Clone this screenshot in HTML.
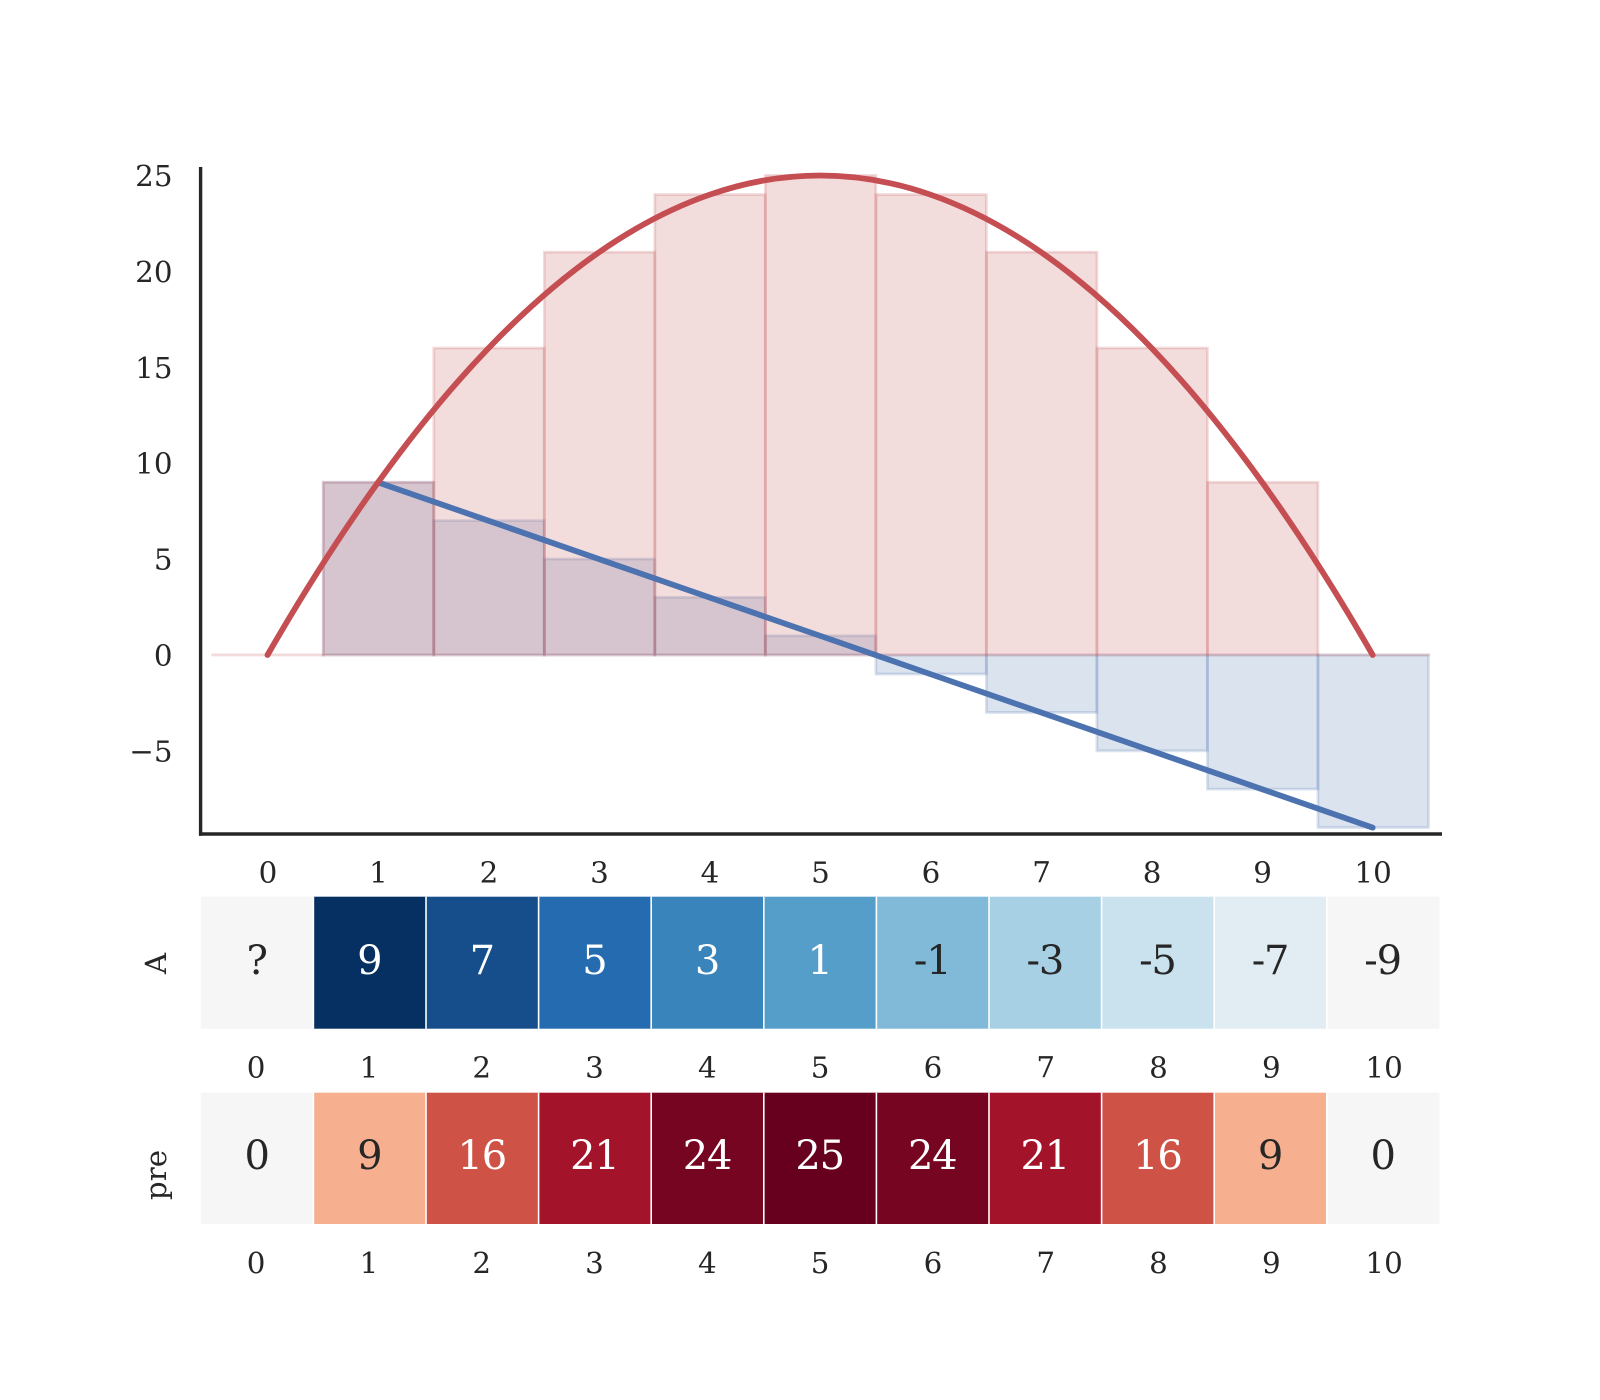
<!DOCTYPE html>
<html lang="en">
<head>
<meta charset="utf-8">
<title>Chart with bars, lines and heatmaps</title>
<style>
html,body{margin:0;padding:0;background:#fff;}
svg{display:block;}
text{font-family:"DejaVu Serif","Liberation Serif",serif;fill:#262626;}
</style>
</head>
<body>
<svg id="chart" width="1600" height="1400" viewBox="0 0 1600 1400" xmlns="http://www.w3.org/2000/svg">
  <rect x="0" y="0" width="1600" height="1400" fill="#ffffff"/>
  <g id="bars"></g>
  <g id="lines"></g>
  <line x1="200.6" y1="167" x2="200.6" y2="835.7" stroke="#262626" stroke-width="3.4"/>
  <line x1="199" y1="834" x2="1442" y2="834" stroke="#262626" stroke-width="3.4"/>
  <g id="ticks"></g>
  <g id="heat"></g>
  <text transform="translate(166,963.5) rotate(-90)" text-anchor="middle" font-size="29.33">A</text>
  <text transform="translate(166,1175) rotate(-90)" text-anchor="middle" font-size="29.33">pre</text>
</svg>
<script>
const categories = [0, 1, 2, 3, 4, 5, 6, 7, 8, 9, 10];
const seriesA = [null, 9, 7, 5, 3, 1, -1, -3, -5, -7, -9];
const seriesPre = [0, 9, 16, 21, 24, 25, 24, 21, 16, 9, 0];
const yTicks = [-5, 0, 5, 10, 15, 20, 25];
const annotA = ['?', '9', '7', '5', '3', '1', '-1', '-3', '-5', '-7', '-9'];
const annotPre = ['0', '9', '16', '21', '24', '25', '24', '21', '16', '9', '0'];

const NS = 'http://www.w3.org/2000/svg';
const RED = '#c44e52';
const BLUE = '#4c72b0';
const X0 = 267.5, XU = 110.52;
const Y0 = 655, YU = 19.18;
const HX0 = 200.8, HW = 112.6;
const FONT_TICK = 29.33, FONT_ANNOT = 40;
const barsG = document.getElementById('bars');
const linesG = document.getElementById('lines');
const ticksG = document.getElementById('ticks');
const heatG = document.getElementById('heat');

function xScale(v) { return X0 + v * XU; }
function yScale(v) { return Y0 - v * YU; }
function heatX(i) { return HX0 + i * HW; }

function svgEl(tag, attrs) {
  const el = document.createElementNS(NS, tag);
  for (const k in attrs) el.setAttribute(k, attrs[k]);
  return el;
}

function barPath(cat, val) {
  const l = xScale(cat - 0.5) + 0.5, r = xScale(cat + 0.5) + 0.5, t = yScale(val) - 0.1, b = yScale(0);
  return 'M' + l + ' ' + b + 'L' + l + ' ' + t + 'L' + r + ' ' + t + 'L' + r + ' ' + b + 'Z';
}

function smoothPath(xs, ys) {
  const pts = [];
  xs.forEach(function (c, i) {
    if (ys[i] !== null) pts.push([xScale(c), yScale(ys[i])]);
  });
  const n = pts.length;
  const at = function (i) {
    if (i < 0) return [0, 1].map(function (k) { return 3 * pts[0][k] - 3 * pts[1][k] + pts[2][k]; });
    if (i >= n) return [0, 1].map(function (k) { return 3 * pts[n - 1][k] - 3 * pts[n - 2][k] + pts[n - 3][k]; });
    return pts[i];
  };
  let d = 'M' + pts[0][0] + ' ' + pts[0][1];
  for (let i = 0; i < n - 1; i++) {
    const p0 = at(i - 1), p1 = at(i), p2 = at(i + 1), p3 = at(i + 2);
    d += 'C' + (p1[0] + (p2[0] - p0[0]) / 6) + ' ' + (p1[1] + (p2[1] - p0[1]) / 6) + ' ' +
         (p2[0] - (p3[0] - p1[0]) / 6) + ' ' + (p2[1] - (p3[1] - p1[1]) / 6) + ' ' + p2[0] + ' ' + p2[1];
  }
  return d;
}

/* bars: blue first, red on top */
categories.forEach(function (c, i) {
  if (seriesA[i] === null) return;
  const el = svgEl('path', { d: barPath(c, seriesA[i]), fill: BLUE, 'fill-opacity': 0.2, stroke: BLUE, 'stroke-opacity': 0.2, 'stroke-width': 2.8 });
  
  
  barsG.appendChild(el);
});
categories.forEach(function (c, i) {
  const el = svgEl('path', { d: barPath(c, seriesPre[i]), fill: RED, 'fill-opacity': 0.2, stroke: RED, 'stroke-opacity': 0.2, 'stroke-width': 2.8 });
  
  
  barsG.appendChild(el);
});

/* lines */
let aD = '';
categories.forEach(function (c, i) {
  if (seriesA[i] === null) return;
  aD += (aD ? 'L' : 'M') + xScale(c) + ' ' + yScale(seriesA[i]);
});
const aLine = svgEl('path', { d: aD, fill: 'none', stroke: BLUE, 'stroke-width': 5.8, 'stroke-linecap': 'round', 'stroke-linejoin': 'round' });


linesG.appendChild(aLine);
const preLine = svgEl('path', { d: smoothPath(categories, seriesPre), fill: 'none', stroke: RED, 'stroke-width': 5.8, 'stroke-linecap': 'round', 'stroke-linejoin': 'round' });


linesG.appendChild(preLine);

/* main axes tick labels */
yTicks.forEach(function (v) {
  const t = svgEl('text', { x: 172.5, y: yScale(v) + 10.5, 'text-anchor': 'end', 'font-size': FONT_TICK });
  t.textContent = String(v).replace('-', '\u2212');
  
  
  ticksG.appendChild(t);
});
categories.forEach(function (c) {
  const t = svgEl('text', { x: xScale(c) + 0.4, y: 882.7, 'text-anchor': 'middle', 'font-size': FONT_TICK });
  t.textContent = String(c);
  
  
  ticksG.appendChild(t);
});

/* colour map (RdBu anchor colours) */
const rdbu = [[103,0,31],[178,24,43],[214,96,77],[244,165,130],[253,219,199],[246,246,246],[209,229,240],[146,197,222],[67,147,195],[33,102,172],[5,48,97]];
function cmap(t) {
  const p = Math.max(0, Math.min(1, t)) * 10;
  const i = Math.min(9, Math.floor(p));
  const f = p - i;
  return [0, 1, 2].map(function (k) { return rdbu[i][k] + (rdbu[i + 1][k] - rdbu[i][k]) * f; });
}
function lum(c) {
  const ch = c.map(function (v) {
    const s = v / 255;
    return s <= 0.03928 ? s / 12.92 : Math.pow((s + 0.055) / 1.055, 2.4);
  });
  return 0.2126 * ch[0] + 0.7152 * ch[1] + 0.0722 * ch[2];
}
function rgb(c) { return 'rgb(' + c.map(Math.round).join(',') + ')'; }

function drawRow(values, labels, top, bottom, annotBase, tickBase, colorAt, cellName, annotName, tickName) {
  categories.forEach(function (c, i) {
    const col = colorAt(values[i]);
    const cell = svgEl('rect', { x: heatX(i), y: top, width: HW, height: bottom - top, fill: rgb(col) });
    
    
    heatG.appendChild(cell);
    if (i > 0) {
      const sep = svgEl('line', { x1: heatX(i), y1: top, x2: heatX(i), y2: bottom, stroke: '#ffffff', 'stroke-width': 1.6 });
      
      
      heatG.appendChild(sep);
    }
  });
  categories.forEach(function (c, i) {
    const col = colorAt(values[i]);
    const a = svgEl('text', { x: heatX(i) + HW / 2 - 0.5, y: annotBase, 'text-anchor': 'middle', 'font-size': FONT_ANNOT, 'letter-spacing': -1.2 });
    a.style.fill = lum(col) > 0.408 ? '#262626' : '#ffffff';
    a.textContent = labels[i];
    
    
    heatG.appendChild(a);
    const t = svgEl('text', { x: heatX(5) + HW / 2 + (i - 5) * 112.8, y: tickBase, 'text-anchor': 'middle', 'font-size': FONT_TICK });
    t.textContent = String(c);
    
    
    heatG.appendChild(t);
  });
}

drawRow(seriesA, annotA, 896.7, 1028.7, 973.8, 1077.7,
  function (v) { return cmap(0.5 + ((v === null ? -9 : v) + 9) / 36); },
  'a-heat-cell', 'a-heat-value', 'a-heat-tick');
drawRow(seriesPre, annotPre, 1092.7, 1224, 1169, 1273,
  function (v) { return cmap(0.5 - v / 50); },
  'pre-heat-cell', 'pre-heat-value', 'pre-heat-tick');
</script>
</body>
</html>
